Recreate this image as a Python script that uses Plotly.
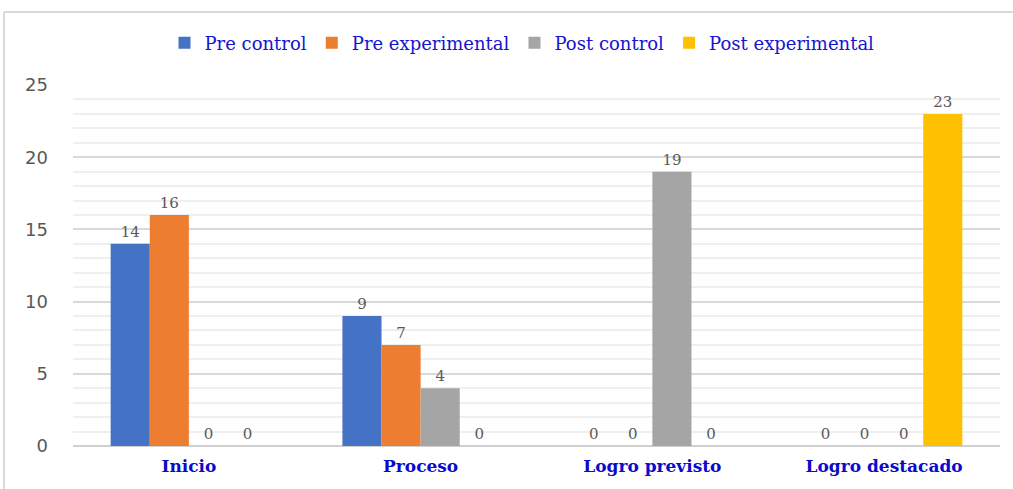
import plotly.graph_objects as go

categories = ["Inicio", "Proceso", "Logro previsto", "Logro destacado"]
series_names = ["Pre control", "Pre experimental", "Post control", "Post experimental"]
pre_control = [14, 9, 0, 0]
pre_experimental = [16, 7, 0, 0]
post_control = [0, 4, 19, 0]
post_experimental = [0, 0, 0, 23]
colors = ["#4472C4", "#ED7D31", "#A5A5A5", "#FFC000"]
y_ticks = [0, 5, 10, 15, 20, 25]

W, H = 1013, 489
ml, mr, mt, mb = 73, 13, 85, 43

fig = go.Figure()
for name, vals, c in zip(series_names,
                         [pre_control, pre_experimental, post_control, post_experimental],
                         colors):
    fig.add_trace(go.Bar(
        x=categories, y=vals, name=name, marker=dict(color=c, line=dict(width=0)),
        text=[str(v) for v in vals], textposition="outside", cliponaxis=False,
        textfont=dict(family="DejaVu Serif", size=15, color="#595959"),
    ))

pw = W - ml - mr
ph = H - mt - mb
def px2paper_x(px):
    return (px - ml) / pw
def px2paper_y(py):
    return (H - mb - py) / ph

fig.add_shape(type="line", xref="paper", yref="paper",
              x0=px2paper_x(4), x1=px2paper_x(1020), y0=px2paper_y(12), y1=px2paper_y(12),
              line=dict(color="#d9d9d9", width=2))
fig.add_shape(type="line", xref="paper", yref="paper",
              x0=px2paper_x(4), x1=px2paper_x(4), y0=px2paper_y(12), y1=px2paper_y(495),
              line=dict(color="#d9d9d9", width=2))

fig.update_layout(
    width=W, height=H,
    margin=dict(l=ml, r=mr, t=mt, b=mb),
    paper_bgcolor="white", plot_bgcolor="white",
    barmode="group", bargap=0.325, bargroupgap=0,
    showlegend=True,
    legend=dict(orientation="h", x=px2paper_x(522), xanchor="center", y=px2paper_y(43),
                yanchor="middle",
                font=dict(family="DejaVu Serif", size=18, color="#1414D2"),
                itemwidth=30, tracegroupgap=0),
    xaxis=dict(showgrid=False, showline=False, ticks="", ticklabelstandoff=8,
               tickfont=dict(family="DejaVu Serif", size=17, color="#0A0ACC", weight="bold")),
    yaxis=dict(range=[0, 25], tickvals=y_ticks, showgrid=True, gridcolor="#d9d9d9", gridwidth=2,
               zeroline=True, zerolinecolor="#d0d0d0", zerolinewidth=2,
               tickfont=dict(family="DejaVu Sans", size=18, color="#595959"), ticks="",
               ticklabelstandoff=24,
               minor=dict(dtick=1, showgrid=True, gridcolor="#efefef", gridwidth=2)),
    font=dict(family="DejaVu Sans"),
)

fig.write_html("out.html")
